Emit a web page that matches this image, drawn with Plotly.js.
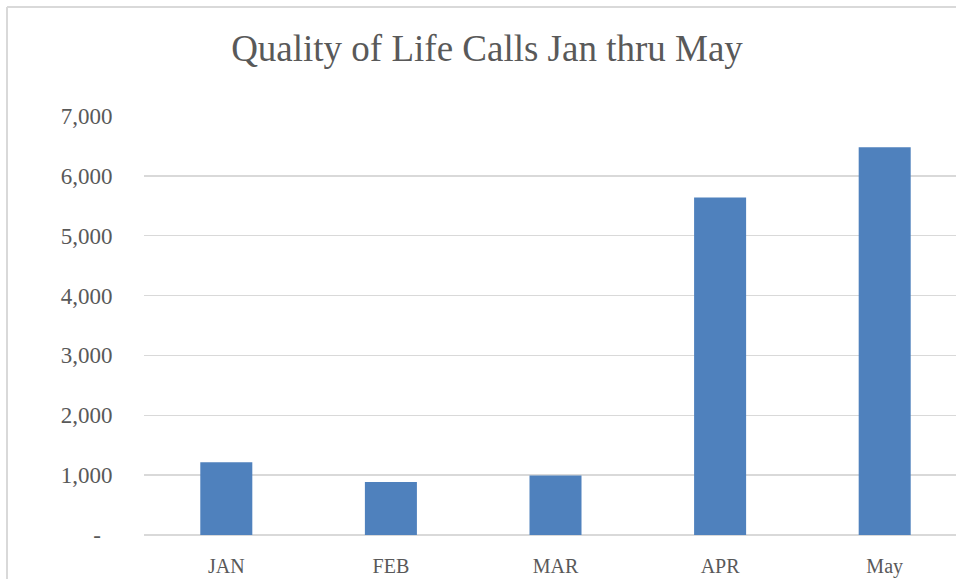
<!DOCTYPE html>
<html>
<head>
<meta charset="utf-8">
<script src="https://cdn.plot.ly/plotly-3.0.1.min.js"></script>
<style>
  html, body { margin: 0; padding: 0; background: #ffffff; overflow: hidden; width: 956px; height: 579px; }
  #wrap { width: 956px; height: 579px; overflow: hidden; position: relative; }
  #chart { width: 972px; height: 579px; position: absolute; left: 0; top: 0; }
</style>
</head>
<body>
<div id="wrap"><div id="chart"></div></div>
<script>
const months = ["JAN", "FEB", "MAR", "APR", "May"];
const calls = [1215, 885, 995, 5640, 6480];
const yTickVals = [0, 1000, 2000, 3000, 4000, 5000, 6000, 7000];
const yTickText = ["-\u00a0\u00a0", "1,000", "2,000", "3,000", "4,000", "5,000", "6,000", "7,000"];
const chartTitle = "Quality of Life Calls Jan thru May";

const fontFamily = "'Liberation Serif', 'DejaVu Serif', serif";
const grey = "#595959";

const W = 972, H = 579, L = 144, T = 116, B = 44;
const plotW = W - L, plotH = H - T - B;

const trace = {
  type: "bar",
  x: [0, 1, 2, 3, 4],
  y: calls,
  marker: { color: "#4f81bd", line: { width: 0 } },
  hoverinfo: "skip"
};

const layout = {
  width: W,
  height: H,
  margin: { l: L, r: 0, t: T, b: B, pad: 0 },
  paper_bgcolor: "#ffffff",
  plot_bgcolor: "#ffffff",
  showlegend: false,
  bargap: 0.684,
  title: {
    text: chartTitle,
    font: { family: fontFamily, size: 37, color: grey },
    xref: "container", x: 487 / W, xanchor: "center",
    yref: "container", y: 1 - 48 / H, yanchor: "middle"
  },
  xaxis: {
    range: [-0.5, -0.5 + plotW / 164.6],
    tickvals: [0, 1, 2, 3, 4],
    ticktext: months,
    ticks: "outside", ticklen: 13, tickcolor: "rgba(0,0,0,0)",
    showgrid: false, zeroline: false, showline: false,
    tickfont: { family: fontFamily, size: 20, color: grey },
    fixedrange: true
  },
  yaxis: {
    range: [0, 7000],
    tickvals: yTickVals,
    ticktext: yTickText,
    ticks: "outside", ticklen: 26, tickcolor: "rgba(0,0,0,0)",
    showgrid: true, gridcolor: "#d9d9d9", gridwidth: 1.5,
    zeroline: true, zerolinecolor: "#d9d9d9", zerolinewidth: 1.5,
    showline: false,
    tickfont: { family: fontFamily, size: 23, color: grey },
    fixedrange: true
  },
  shapes: [
    { type: "line", xref: "paper", yref: "paper",
      x0: (7 - L) / plotW, x1: 1.05, y0: 1 + (T - 7) / plotH, y1: 1 + (T - 7) / plotH,
      line: { color: "#d9d9d9", width: 2 } },
    { type: "line", xref: "paper", yref: "paper",
      x0: (7 - L) / plotW, x1: (7 - L) / plotW, y0: 1 + (T - 7) / plotH, y1: -0.2,
      line: { color: "#d9d9d9", width: 2 } }
  ]
};

Plotly.newPlot("chart", [trace], layout, { displayModeBar: false, staticPlot: true });
</script>
</body>
</html>
